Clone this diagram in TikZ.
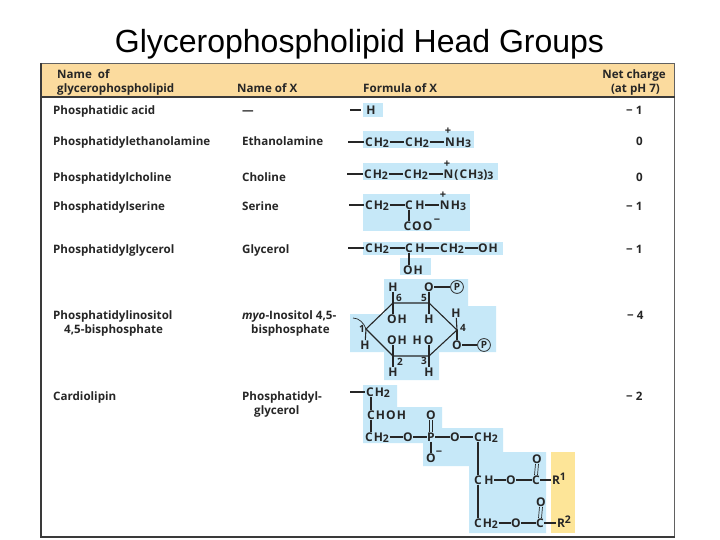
\documentclass[tikz,border=0pt]{standalone}
\usepackage{fontspec}
\setmainfont{Liberation Sans}
\newfontfamily\tablef{Open Sans}
\newfontfamily\chemf[LetterSpace=9]{Open Sans}
\definecolor{hdr}{HTML}{FBDB9E}
\definecolor{bluebg}{HTML}{C6E8F8}
\definecolor{yel}{HTML}{FDE598}
\definecolor{ink}{HTML}{262626}
\definecolor{frame}{HTML}{3A3A3A}
\newcommand{\atm}[4]{\node[atom] (#1) at (#2,#3) {#4};}
\newcommand{\lbl}[4]{\node[lab] (#1) at (#2,#3) {#4};}
\newcommand{\tx}[4]{\node[txt,anchor=west] (#1) at (#2,#3) {#4};}
\newcommand{\sm}[1]{\raisebox{-1.5pt}{\fontsize{10.5}{11}\selectfont #1}}
\newcommand{\su}[1]{\raisebox{4pt}{\fontsize{10.5}{11}\selectfont #1}}
\tikzset{
  atom/.style={inner sep=0.4pt,text=ink,font=\chemf\bfseries\fontsize{12}{14}\selectfont,text height=8.5pt,text depth=0pt},
  lab/.style={inner sep=0pt,text=ink,font=\tablef\bfseries\fontsize{10}{11}\selectfont},
  txt/.style={inner sep=0pt,text=ink,font=\tablef\bfseries\fontsize{11.6}{13}\selectfont,text height=8.3pt,text depth=0pt},
  bond/.style={draw=ink,line width=1.1pt},
  ptl/.style={draw=ink,circle,line width=0.8pt,inner sep=1.2pt,text=ink,font=\tablef\bfseries\fontsize{10}{10}\selectfont},
}
\begin{document}
\begin{tikzpicture}[x=1pt,y=-1pt]
\useasboundingbox (0,0) rectangle (720,540);
\fill[white] (0,0) rectangle (720,540);
\node[font=\fontsize{32}{34}\selectfont,text=black,inner sep=0pt,anchor=base] (title) at (359.5,52.5) {Glycerophospholipid Head Groups};
% header
\fill[hdr] (41,64) rectangle (674,96.5);
% blue regions
\fill[bluebg] (363,103) rectangle (383,117);
\fill[bluebg] (363,131) rectangle (474,148);
\fill[bluebg] (363,163) rectangle (498,180);
\fill[bluebg] (363,194) rectangle (470,231);
\fill[bluebg] (363,242) rectangle (503,255);
\fill[bluebg] (400,258) rectangle (431,275);
\fill[bluebg] (384,279) -- (468,279) -- (468,306) -- (496,306) -- (496,352) -- (439,352) -- (439,380) -- (384,380) -- (384,352) -- (350,352) -- (350,314) -- (384,314) -- cycle;
\fill[bluebg] (363,385) -- (397,385) -- (397,407) -- (442,407) -- (442,428) -- (503,428) -- (503,452) -- (546,452) -- (546,533) -- (469,533) -- (469,466) -- (423,466) -- (423,443) -- (363,443) -- cycle;
\fill[yel] (551,452) rectangle (575,533);
% frame
\draw[frame!80,line width=1.2pt] (41,63.5) -- (674.5,63.5);
\draw[frame!80,line width=1.2pt] (674.5,63.5) -- (674.5,536);
\draw[frame,line width=2pt] (41,63) -- (41,537);
\draw[frame,line width=2pt] (40,97) -- (675,97);
\draw[frame,line width=2pt] (40,536.5) -- (675,536.5);
% header text
\tx{h1}{57}{74.5}{Name\ \ of}
\tx{h2}{57}{88}{glycerophospholipid}
\tx{h3}{237}{88}{Name of X}
\tx{h4}{363}{88}{Formula of X}
\node[txt,anchor=east] (h5) at (666,74) {Net charge};
\node[txt,anchor=east] (h6) at (660,88) {(at pH 7)};
% names
\tx{n1}{53}{110}{Phosphatidic acid}
\tx{n2}{53}{141}{Phosphatidylethanolamine}
\tx{n3}{53}{177}{Phosphatidylcholine}
\tx{n4}{53}{206}{Phosphatidylserine}
\tx{n5}{53}{249}{Phosphatidylglycerol}
\tx{n6}{53}{315}{Phosphatidylinositol}
\tx{n6b}{64}{329}{4,5-bisphosphate}
\tx{n7}{53}{396}{Cardiolipin}
% name of X
\tx{x1}{242}{110}{—}
\tx{x2}{242}{141}{Ethanolamine}
\tx{x3}{242}{177}{Choline}
\tx{x4}{242}{206}{Serine}
\tx{x5}{242}{249}{Glycerol}
\tx{x6}{242}{315}{{\itshape myo}-Inositol 4,5-}
\tx{x6b}{251}{329}{bisphosphate}
\tx{x7}{242}{396}{Phosphatidyl-}
\tx{x7b}{254}{410}{glycerol}
% charges
\tx{c1}{626}{110}{− 1}
\tx{c2}{636}{141}{0}
\tx{c3}{636}{177}{0}
\tx{c4}{626}{206}{− 1}
\tx{c5}{626}{249}{− 1}
\tx{c6}{627}{315}{− 4}
\tx{c7}{626}{396}{− 2}
% row H
\coordinate (d1) at (350,110);
\atm{a1}{371}{110}{H}
\coordinate (d1e) at (361,110);
\draw[bond] (d1) -- (d1e);
% ethanolamine
\coordinate (d2) at (348,142);
\atm{e1}{377}{142}{CH\sm{2}}
\atm{e2}{417}{142}{CH\sm{2}}
\atm{e3}{458}{142}{NH\sm{3}}
\lbl{ep}{448}{131.5}{\fontsize{11}{11}\selectfont +}
\draw[bond] (d2) -- (e1);
\draw[bond] (e1) -- (e2);
\draw[bond] (e2) -- (e3);
% choline
\coordinate (d3) at (347,174);
\atm{f1}{376}{174}{CH\sm{2}}
\atm{f2}{416}{174}{CH\sm{2}}
\atm{f3}{468.5}{174}{N(CH\sm{3})\sm{3}}
\lbl{fp}{447}{164}{\fontsize{11}{11}\selectfont +}
\draw[bond] (d3) -- (f1);
\draw[bond] (f1) -- (f2);
\draw[bond] (f2) -- (f3);
% serine
\coordinate (d4) at (349,205);
\atm{s1}{377}{205}{CH\sm{2}}
\atm{s2}{409}{205}{C}
\atm{s2h}{420}{205}{H}
\atm{s3}{453}{205}{NH\sm{3}}
\atm{s4}{418}{226}{COO}
\lbl{sm}{437}{221}{\fontsize{11}{11}\selectfont −}
\lbl{sp}{443}{195}{\fontsize{11}{11}\selectfont +}
\draw[bond] (d4) -- (s1);
\draw[bond] (s1) -- (s2);
\draw[bond] (s2h) -- (s3);
\draw[bond] (s2) -- (s2 |- s4.north);
% glycerol
\coordinate (d5) at (348,248);
\atm{g1}{377}{248}{CH\sm{2}}
\atm{g2}{409}{248}{C}
\atm{g2h}{420}{248}{H}
\atm{g3}{452}{248}{CH\sm{2}}
\atm{g4}{488}{248}{OH}
\atm{g5}{413}{270}{OH}
\draw[bond] (d5) -- (g1);
\draw[bond] (g1) -- (g2);
\draw[bond] (g2h) -- (g3);
\draw[bond] (g3) -- (g4);
\draw[bond] (g2) -- (g2 |- g5.north);
% inositol ring
\coordinate (r1) at (366,329);
\coordinate (r2) at (393,356);
\coordinate (r3) at (429,356);
\coordinate (r4) at (457,330);
\coordinate (r5) at (429,303);
\coordinate (r6) at (393,303);
\coordinate (r0) at (353,318);
\draw[bond] (r1) -- (r2) -- (r3) -- (r4) -- (r5) -- (r6) -- cycle;
\draw[bond,line width=0.7pt] (r0) .. controls (359,318) and (364,323) .. (r1);
\atm{i6h}{393}{287}{H}
\atm{i6o}{397}{319}{OH}
\atm{i5o}{429}{287}{O}
\node[ptl] (i5p) at (457,287) {P};
\atm{i5h}{429}{319}{H}
\atm{i4h}{456}{313}{H}
\atm{i4o}{457}{345}{O}
\node[ptl] (i4p) at (484,345) {P};
\atm{i3h}{429}{372}{H}
\atm{i3o}{423}{340}{H\,O}
\atm{i2h}{393}{372}{H}
\atm{i2o}{397}{340}{OH}
\atm{i1h}{365}{345}{H}
\lbl{l1}{362}{329}{1}
\lbl{l2}{400}{362}{2}
\lbl{l3}{424}{361}{3}
\lbl{l4}{463}{328}{4}
\lbl{l5}{424}{298}{5}
\lbl{l6}{399}{298}{6}
\draw[bond] (i6h) -- (r6);
\draw[bond] (r6) -- (r6 |- i6o.north);
\draw[bond] (i5o) -- (i5p);
\draw[bond] (i5o) -- (r5);
\draw[bond] (r5) -- (i5h);
\draw[bond] (i4h) -- (r4);
\draw[bond] (r4) -- (i4o);
\draw[bond] (i4o) -- (i4p);
\draw[bond] (r3) -- (i3h);
\draw[bond] (r3) -- (r3 |- i3o.south);
\draw[bond] (r2) -- (i2h);
\draw[bond] (r2) -- (r2 |- i2o.south);
\draw[bond] (r1) -- (i1h);
% cardiolipin
\coordinate (d7) at (350,392);
\atm{k1}{378}{392}{CH\sm{2}}
\atm{k2c}{371}{415}{C}
\atm{k2}{391}{415}{HOH}
\atm{k3}{377}{437}{CH\sm{2}}
\atm{k4}{408}{437}{O}
\atm{k5}{431}{437}{P}
\atm{k6}{431}{415}{O}
\atm{k7}{431}{458}{O}
\lbl{km}{439}{453}{\fontsize{11}{11}\selectfont −}
\atm{k8}{455}{437}{O}
\atm{k9}{486}{437}{CH\sm{2}}
\atm{k10}{478}{480}{C}
\atm{k10h}{489}{480}{H}
\atm{k11}{511}{480}{O}
\atm{k12}{536}{480}{C}
\atm{k13}{537}{459}{O}
\atm{k14}{559}{480}{R\su{1}}
\atm{k15}{486}{523}{CH\sm{2}}
\atm{k16}{516}{523}{O}
\atm{k17}{540}{523}{C}
\atm{k18}{541}{502}{O}
\atm{k19}{564}{523}{R\su{2}}
\draw[bond] (d7) -- (k1);
\draw[bond] (k1.south -| k2c) -- (k2c);
\draw[bond] (k2c) -- (k3.north -| k2c);
\draw[bond] (k3) -- (k4);
\draw[bond] (k4) -- (k5);
\draw[bond] (k5) -- (k8);
\draw[bond] (k8) -- (k9);
\draw[bond] (k5) -- (k7);
\draw[bond,line width=0.7pt] ([xshift=-1.5pt]k5.north) -- ([xshift=-1.5pt]k6.south);
\draw[bond,line width=0.7pt] ([xshift=1.5pt]k5.north) -- ([xshift=1.5pt]k6.south);
\draw[bond] (k9.south -| k10) -- (k10);
\draw[bond] (k10) -- (k15.north -| k10);
\draw[bond] (k10h) -- (k11);
\draw[bond] (k11) -- (k12);
\draw[bond] (k12) -- (k14);
\draw[bond,line width=0.7pt] ([xshift=-1.5pt]k12.north) -- ([xshift=-1.5pt]k13.south);
\draw[bond,line width=0.7pt] ([xshift=1.5pt]k12.north) -- ([xshift=1.5pt]k13.south);
\draw[bond] (k15) -- (k16);
\draw[bond] (k16) -- (k17);
\draw[bond] (k17) -- (k19);
\draw[bond,line width=0.7pt] ([xshift=-1.5pt]k17.north) -- ([xshift=-1.5pt]k18.south);
\draw[bond,line width=0.7pt] ([xshift=1.5pt]k17.north) -- ([xshift=1.5pt]k18.south);
\end{tikzpicture}
\end{document}
